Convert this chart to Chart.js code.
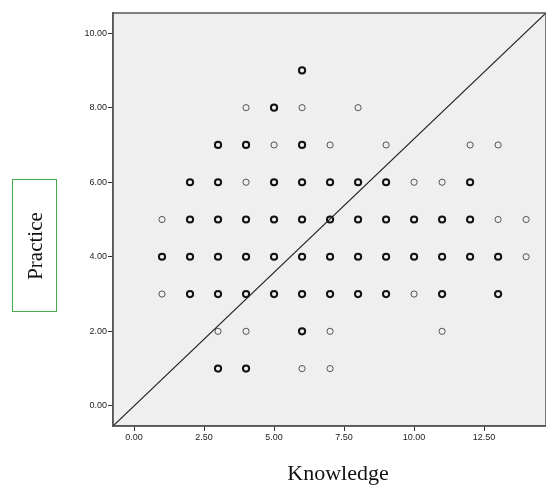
<!DOCTYPE html>
<html>
<head>
<meta charset="utf-8">
<script src="https://cdn.jsdelivr.net/npm/chart.js@4.4.0/dist/chart.umd.min.js"></script>
<style>
  html, body { margin: 0; padding: 0; background: #ffffff; overflow: hidden; }
  #wrap { position: relative; width: 546px; height: 486px; overflow: hidden; }
  #c { position: absolute; left: 0; top: 0; }
  #ytitle {
    position: absolute; left: 12px; top: 179px; width: 43px; height: 131px;
    border: 1.5px solid #4aaa4f; box-sizing: content-box;
  }
  #ytitle span {
    position: absolute; left: 50%; top: 50%;
    transform: translate(-50%, -50%) rotate(-90deg);
    font-family: "Liberation Serif", "Times New Roman", serif; font-size: 21px; color: #111;
    white-space: nowrap;
  }
  #xtitle {
    position: absolute; left: 228px; width: 220px; top: 460px; text-align: center;
    font-family: "Liberation Serif", "Times New Roman", serif; font-size: 22px; color: #111;
  }
</style>
</head>
<body>
<div id="wrap">
  <canvas id="c" width="552" height="486"></canvas>
  <div id="ytitle"><span>Practice</span></div>
  <div id="xtitle">Knowledge</div>
</div>
<script>
// Axis ranges and ticks
const xMin = -0.75, xMax = 14.71;
const yMin = -0.54, yMax = 10.54;
const xTicks = [0, 2.5, 5, 7.5, 10, 12.5];
const yTicks = [0, 2, 4, 6, 8, 10];

// Darker (overlapping) markers
const boldKnowledge = [6, 5, 3, 4, 6, 2, 3, 5, 6, 7, 8, 9, 12,
  2, 3, 4, 5, 6, 7, 8, 9, 10, 11, 12,
  1, 2, 3, 4, 5, 6, 7, 8, 9, 10, 11, 12, 13,
  2, 3, 4, 5, 6, 7, 8, 9, 11, 13,
  6, 3, 4];
const boldPractice = [9, 8, 7, 7, 7, 6, 6, 6, 6, 6, 6, 6, 6,
  5, 5, 5, 5, 5, 5, 5, 5, 5, 5, 5,
  4, 4, 4, 4, 4, 4, 4, 4, 4, 4, 4, 4, 4,
  3, 3, 3, 3, 3, 3, 3, 3, 3, 3,
  2, 1, 1];

// Lighter (single) markers
const thinKnowledge = [4, 6, 8, 5, 7, 9, 12, 13, 4, 10, 11, 1, 13, 14, 14, 1, 10, 3, 4, 7, 11, 6, 7];
const thinPractice  = [8, 8, 8, 7, 7, 7, 7, 7, 6, 6, 6, 5, 5, 5, 4, 3, 3, 2, 2, 2, 2, 1, 1];

const toPts = (xs, ys) => xs.map((x, i) => ({ x: x, y: ys[i] }));

const plotBg = {
  id: 'plotBg',
  beforeDraw(chart) {
    const { ctx, chartArea: a } = chart;
    ctx.save();
    ctx.fillStyle = '#efefef';
    ctx.fillRect(a.left, a.top, a.right - a.left, a.bottom - a.top);
    ctx.restore();
  },
  afterDraw(chart) {
    const { ctx, chartArea: a } = chart;
    ctx.save();
    ctx.strokeStyle = '#555';
    ctx.lineWidth = 1.5;
    ctx.strokeRect(a.left, a.top, a.right - a.left, a.bottom - a.top);
    ctx.restore();
  }
};

const tickFont = { family: '"Liberation Sans", Arial, sans-serif', size: 9 };

new Chart(document.getElementById('c'), {
  type: 'scatter',
  data: {
    datasets: [
      {
        type: 'line',
        data: [{ x: xMin, y: yMin }, { x: xMax, y: yMax }],
        borderColor: '#222', borderWidth: 1.2, pointRadius: 0, fill: false
      },
      {
        data: toPts(thinKnowledge, thinPractice),
        pointRadius: 3.1, pointBorderWidth: 1, pointBorderColor: '#555',
        pointBackgroundColor: 'rgba(0,0,0,0)'
      },
      {
        data: toPts(boldKnowledge, boldPractice),
        pointRadius: 3.1, pointBorderWidth: 2, pointBorderColor: '#111',
        pointBackgroundColor: 'rgba(0,0,0,0)'
      }
    ]
  },
  options: {
    responsive: false,
    animation: false,
    layout: { padding: { top: 13, right: 0, left: 0, bottom: 0 } },
    plugins: { legend: { display: false }, tooltip: { enabled: false } },
    scales: {
      x: {
        type: 'linear', min: xMin, max: xMax,
        afterBuildTicks: s => { s.ticks = xTicks.map(v => ({ value: v })); },
        afterFit: s => { s.height = 60; },
        grid: { drawOnChartArea: false, drawTicks: true, tickLength: 5, color: '#333', lineWidth: 1 },
        border: { display: true, color: '#555', width: 1.5 },
        ticks: { font: tickFont, color: '#222', padding: 1, maxRotation: 0,
                 callback: v => Number(v).toFixed(2) }
      },
      y: {
        type: 'linear', min: yMin, max: yMax,
        afterBuildTicks: s => { s.ticks = yTicks.map(v => ({ value: v })); },
        afterFit: s => { s.width = 113; },
        grid: { drawOnChartArea: false, drawTicks: true, tickLength: 5, color: '#333', lineWidth: 1 },
        border: { display: true, color: '#555', width: 1.5 },
        ticks: { font: tickFont, color: '#222', padding: 1,
                 callback: v => Number(v).toFixed(2) }
      }
    }
  },
  plugins: [plotBg]
});
</script>
</body>
</html>
